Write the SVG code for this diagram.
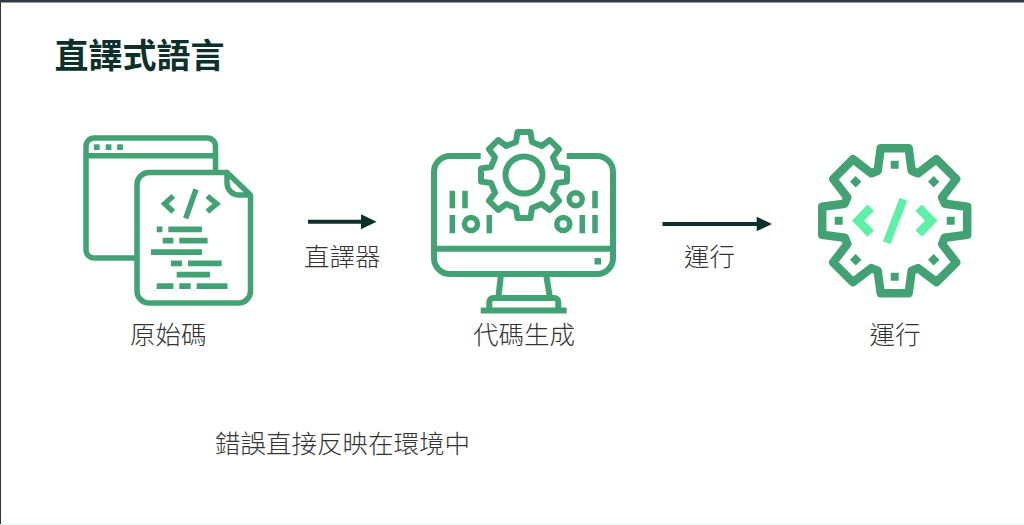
<svg xmlns="http://www.w3.org/2000/svg" width="1024" height="525" viewBox="0 0 1024 525">
<style>
.g{fill:none;stroke:#43a273;stroke-width:5.500;stroke-linejoin:round}
.m{stroke-width:6}
.f{fill:#43a273}
.a{fill:none;stroke:#0c302b;stroke-width:4}
.h{fill:#0c302b}
.t{font-family:"Noto Sans CJK TC","Noto Sans CJK JP",sans-serif;font-size:25.5px;fill:#333;font-weight:300}
.ttl{font-family:"Noto Sans CJK TC","Noto Sans CJK JP",sans-serif;font-size:34px;fill:#0c302b;font-weight:700}
</style>
<rect width="1024" height="525" fill="#fff"/>
<rect width="1024" height="2.500" fill="#2f3a44"/>
<rect width="1" height="525" fill="#2f3a44"/>
<rect y="524" width="1024" height="1" fill="#e4fbf6"/>
<text class="ttl" x="54.500" y="68">直譯式語言</text>
<g id="source-node">
<path class="g" d="M135 258H94a8 8 0 0 1-8-8V146a8 8 0 0 1 8-8H207.500a8 8 0 0 1 8 8V172M86 155.700H215"/>
<rect class="f" x="94" y="144.300" width="5.700" height="5.700"/><rect class="f" x="105.700" y="144.300" width="5.700" height="5.700"/><rect class="f" x="117.200" y="144.300" width="5.700" height="5.700"/>
<path class="g" d="M227 172.500H149a12 12 0 0 0-12 12V291a12 12 0 0 0 12 12H238.500a12 12 0 0 0 12-12V195L227 172.500V183a12 12 0 0 0 12 12H250.500"/>
<path class="g" style="stroke-linejoin:miter" d="M173.300 196L164.700 203.800L173.300 211.700M207.300 196L216.700 203.800L207.300 211.700M196 189.300L185.700 218.300"/>
<path class="f" d="M156.700 226.500h5.700v5.700h-5.700zM168.300 226.500h33.700v5.700h-33.700zM162.700 237.800h10.700v5.700h-10.700zM179.300 237.800h28.300v5.700h-28.300zM151 249.200h51v5.700h-51zM171 260.500h11v5.700h-11zM188 260.500h33.700v5.700h-33.700zM176.700 271.800h33.300v5.700h-33.300zM156.700 283.200h16.700v5.700h-16.700zM179.300 283.200h11.400v5.700h-11.400zM196.700 283.200h30.800v5.700h-30.800z"/>
<text class="t" x="130" y="344">原始碼</text>
</g>
<g id="codegen-node">
<path class="g m" d="M480.700 156H450a16 16 0 0 0-16 16V258a16 16 0 0 0 16 16H597a16 16 0 0 0 16-16V172a16 16 0 0 0-16-16H566.700M434 248.700H613"/>
<rect class="f" x="594.500" y="258" width="6.500" height="6.500"/>
<path class="g m" d="M501 274L498.300 298M546 274L550 298M489.300 310.500V302a4 4 0 0 1 4-4H554.300a4 4 0 0 1 4 4V310.500M480.700 310.500H566.700"/>
<polygon class="g m" transform="translate(524 175)" points="-6.500,-43 6.500,-43 8,-33 17.700,-29 25.800,-35 35,-25.800 29,-17.700 33,-8 43,-6.500 43,6.500 33,8 29,17.700 35,25.800 25.800,35 17.700,29 8,33 6.500,43 -6.500,43 -8,33 -17.700,29 -25.800,35 -35,25.800 -29,17.700 -33,8 -43,6.500 -43,-6.500 -33,-8 -29,-17.700 -35,-25.800 -25.800,-35 -17.700,-29 -8,-33"/>
<circle class="g m" cx="524" cy="175" r="18.500"/>
<path class="g" d="M452.300 190.700V208.300M465 190.700V208.300M452.300 215V233.300M489.300 215V233.300M595 190.700V208.300M582.300 215V233.300M595 215V233.300"/>
<circle class="g" cx="471" cy="224" r="6.500"/><circle class="g" cx="575.700" cy="199.300" r="6.500"/><circle class="g" cx="563.300" cy="224" r="6.500"/>
<text class="t" x="473" y="344">代碼生成</text>
</g>
<g id="run-node">
<polygon transform="translate(894.700 220.700)" fill="none" stroke="#43a273" stroke-width="8.500" stroke-linejoin="round" points="-14,-72.500 14,-72.500 17,-50 23.300,-47.400 41.700,-61.500 61.500,-41.700 47.400,-23.300 50,-17 72.500,-14 72.500,14 50,17 47.400,23.300 61.500,41.700 41.700,61.500 23.300,47.400 17,50 14,72.500 -14,72.500 -17,50 -23.300,47.400 -41.700,61.500 -61.500,41.700 -47.400,23.300 -50,17 -72.500,14 -72.500,-14 -50,-17 -47.400,-23.300 -61.500,-41.700 -41.700,-61.500 -23.300,-47.400 -17,-50"/>
<g transform="translate(894.700 220.700)">
<path class="f" d="M-4-60h8v8h-8zM-4 52h8v8h-8zM-60-4h8v8h-8zM52-4h8v8h-8zM-39-44.700l5.700 5.700l-5.700 5.700l-5.700-5.700zM39-44.700l5.700 5.700l-5.700 5.700l-5.700-5.700zM-39 33.300l5.700 5.700l-5.700 5.700l-5.700-5.700zM39 33.300l5.700 5.700l-5.700 5.700l-5.700-5.700z"/>
<path fill="none" stroke="#5ff0a8" stroke-width="9" d="M-24-13L-36.500 0L-24 13M24-13L36.500 0L24 13"/>
<path fill="none" stroke="#5ff0a8" stroke-width="8" d="M8.700-21.500L-8 22"/>
</g>
<text class="t" x="869.500" y="344">運行</text>
</g>
<g id="connectors">
<path class="a" d="M308 221.700H364"/><polygon class="h" points="376.500,221.700 361,214.200 361,229.200"/>
<path class="a" d="M662.500 224H760"/><polygon class="h" points="772,224 756.700,216.700 756.700,231.300"/>
</g>
<text class="t" x="304" y="266">直譯器</text>
<text class="t" x="684" y="266">運行</text>
<text class="t" x="215" y="453">錯誤直接反映在環境中</text>
</svg>
